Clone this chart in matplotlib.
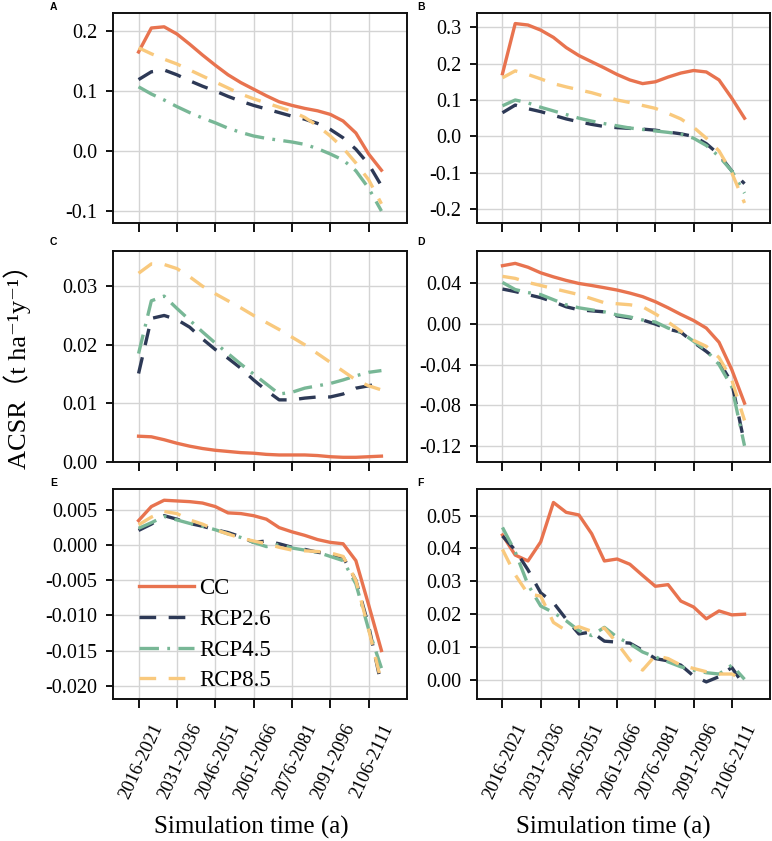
import numpy as np
import matplotlib
matplotlib.use("Agg")
import matplotlib.pyplot as plt
from matplotlib.ticker import FormatStrFormatter
from matplotlib.transforms import ScaledTranslation

plt.rcParams['font.family'] = ['Liberation Serif', 'DejaVu Serif', 'Noto Sans CJK SC']
plt.rcParams['axes.unicode_minus'] = False
plt.rcParams['lines.scale_dashes'] = False

# ---------------- data ----------------
periods = ["2016-2021", "2021-2026", "2026-2031", "2031-2036", "2036-2041", "2041-2046",
           "2046-2051", "2051-2056", "2056-2061", "2061-2066", "2066-2071", "2071-2076",
           "2076-2081", "2081-2086", "2086-2091", "2091-2096", "2096-2101", "2101-2106",
           "2106-2111", "2111-2116"]
tick_labels = ["2016-2021", "2031-2036", "2046-2051", "2061-2066", "2076-2081", "2091-2096", "2106-2111"]
series_names = ["CC", "RCP2.6", "RCP4.5", "RCP8.5"]

A_CC = [0.165, 0.205, 0.207, 0.195, 0.178, 0.160, 0.143, 0.127, 0.114, 0.103, 0.092, 0.082, 0.076, 0.071, 0.067, 0.061, 0.050, 0.030, -0.005, -0.032]
A_R26 = [0.119, 0.132, 0.135, 0.127, 0.117, 0.108, 0.100, 0.091, 0.083, 0.076, 0.070, 0.064, 0.058, 0.053, 0.046, 0.036, 0.022, 0.003, -0.022, -0.058]
A_R45 = [0.107, 0.095, 0.085, 0.074, 0.064, 0.055, 0.047, 0.038, 0.031, 0.025, 0.021, 0.018, 0.015, 0.011, 0.004, -0.005, -0.015, -0.033, -0.062, -0.100]
A_R85 = [0.172, 0.162, 0.153, 0.145, 0.135, 0.125, 0.115, 0.105, 0.095, 0.087, 0.080, 0.073, 0.066, 0.056, 0.042, 0.025, 0.005, -0.020, -0.048, -0.088]

B_CC = [0.172, 0.310, 0.306, 0.292, 0.272, 0.244, 0.222, 0.205, 0.188, 0.170, 0.155, 0.145, 0.150, 0.163, 0.174, 0.181, 0.177, 0.155, 0.105, 0.050]
B_R26 = [0.065, 0.086, 0.076, 0.068, 0.058, 0.048, 0.040, 0.033, 0.027, 0.024, 0.022, 0.020, 0.017, 0.012, 0.007, 0.000, -0.020, -0.050, -0.095, -0.130]
B_R45 = [0.084, 0.100, 0.092, 0.080, 0.070, 0.060, 0.050, 0.042, 0.035, 0.029, 0.023, 0.019, 0.015, 0.011, 0.006, -0.005, -0.025, -0.055, -0.095, -0.156]
B_R85 = [0.161, 0.180, 0.170, 0.158, 0.145, 0.136, 0.128, 0.120, 0.110, 0.100, 0.093, 0.085, 0.077, 0.063, 0.048, 0.025, -0.005, -0.040, -0.100, -0.183]

C_CC = [0.0044, 0.0043, 0.0038, 0.0032, 0.0027, 0.0023, 0.0020, 0.0018, 0.0016, 0.0015, 0.0013, 0.0012, 0.0012, 0.0012, 0.0011, 0.0009, 0.0008, 0.0008, 0.0009, 0.0010]
C_R26 = [0.0151, 0.0245, 0.0250, 0.0243, 0.0230, 0.0210, 0.0192, 0.0177, 0.0160, 0.0140, 0.0122, 0.0106, 0.0106, 0.0109, 0.0111, 0.0111, 0.0116, 0.0126, 0.0130, 0.0135]
C_R45 = [0.0185, 0.0275, 0.0283, 0.0262, 0.0242, 0.0222, 0.0203, 0.0185, 0.0167, 0.0150, 0.0133, 0.0116, 0.0119, 0.0126, 0.0130, 0.0134, 0.0140, 0.0147, 0.0153, 0.0156]
C_R85 = [0.0322, 0.0338, 0.0337, 0.0330, 0.0316, 0.0300, 0.0287, 0.0275, 0.0263, 0.0250, 0.0238, 0.0226, 0.0213, 0.0200, 0.0185, 0.0170, 0.0155, 0.0140, 0.0130, 0.0123]

D_CC = [0.0575, 0.0598, 0.0560, 0.0505, 0.0465, 0.0430, 0.0400, 0.0380, 0.0358, 0.0335, 0.0305, 0.0270, 0.0220, 0.0160, 0.0095, 0.0035, -0.0040, -0.0180, -0.0450, -0.0780]
D_R26 = [0.0345, 0.032, 0.029, 0.026, 0.022, 0.017, 0.014, 0.013, 0.012, 0.008, 0.006, 0.004, 0.000, -0.005, -0.008, -0.018, -0.027, -0.037, -0.058, -0.118]
D_R45 = [0.041, 0.034, 0.031, 0.029, 0.024, 0.019, 0.016, 0.014, 0.012, 0.009, 0.007, 0.004, 0.002, -0.004, -0.008, -0.017, -0.026, -0.040, -0.062, -0.120]
D_R85 = [0.047, 0.045, 0.041, 0.038, 0.035, 0.032, 0.029, 0.025, 0.021, 0.020, 0.019, 0.017, 0.010, 0.002, -0.007, -0.016, -0.022, -0.033, -0.055, -0.095]

E_CC = [0.0035, 0.0055, 0.0064, 0.0063, 0.0062, 0.0060, 0.0055, 0.0046, 0.0045, 0.0042, 0.0037, 0.0025, 0.0019, 0.0014, 0.0008, 0.0004, 0.0002, -0.0022, -0.0085, -0.0150]
E_R26 = [0.0021, 0.0030, 0.0042, 0.0037, 0.0031, 0.0027, 0.0022, 0.0018, 0.0012, 0.0004, 0.0006, 0.0002, -0.0003, -0.0006, -0.0010, -0.0013, -0.0017, -0.0050, -0.0115, -0.0200]
E_R45 = [0.0024, 0.0032, 0.0041, 0.0036, 0.0031, 0.0027, 0.0022, 0.0016, 0.0011, 0.0004, -0.0002, 0.0001, -0.0004, -0.0007, -0.0010, -0.0016, -0.0022, -0.0055, -0.0120, -0.0175]
E_R85 = [0.0029, 0.0040, 0.0048, 0.0045, 0.0036, 0.0030, 0.0022, 0.0016, 0.0010, 0.0006, 0.0002, -0.0003, -0.0007, -0.0008, -0.0009, -0.0011, -0.0016, -0.0050, -0.0120, -0.0195]

F_CC = [0.0441, 0.0380, 0.0362, 0.0420, 0.0540, 0.0510, 0.0502, 0.0445, 0.0362, 0.0368, 0.0352, 0.0318, 0.0285, 0.0290, 0.0240, 0.0222, 0.0186, 0.0210, 0.0198, 0.0200]
F_R26 = [0.0438, 0.0395, 0.0335, 0.0265, 0.0235, 0.0185, 0.0140, 0.0146, 0.0118, 0.0115, 0.0112, 0.0090, 0.0065, 0.0058, 0.0045, 0.0012, -0.0006, 0.0010, 0.0038, -0.0018]
F_R45 = [0.0464, 0.0390, 0.0290, 0.0225, 0.0205, 0.0180, 0.0150, 0.0135, 0.0160, 0.0130, 0.0110, 0.0085, 0.0070, 0.0055, 0.0040, 0.0030, 0.0022, 0.0018, 0.0045, 0.0002]
F_R85 = [0.0397, 0.0320, 0.0262, 0.0255, 0.0175, 0.0150, 0.0162, 0.0148, 0.0158, 0.0112, 0.0060, 0.0030, 0.0074, 0.0065, 0.0045, 0.0035, 0.0025, 0.0018, 0.0018, 0.0000]

panel_letters = ["A", "B", "C", "D", "E", "F"]
A_yticks = [-0.1, 0.0, 0.1, 0.2]
B_yticks = [-0.2, -0.1, 0.0, 0.1, 0.2, 0.3]
C_yticks = [0.00, 0.01, 0.02, 0.03]
D_yticks = [-0.12, -0.08, -0.04, 0.00, 0.04]
E_yticks = [-0.020, -0.015, -0.010, -0.005, 0.000, 0.005]
F_yticks = [0.00, 0.01, 0.02, 0.03, 0.04, 0.05]

# ---------------- style ----------------
colors = ["#E8734F", "#2D3956", "#78B796", "#F9C97D"]
lw = 2.4
styles = [dict(linestyle="-"),
          dict(dashes=(12, 9)),
          dict(dashes=(14, 6, 2, 6)),
          dict(dashes=(12, 9))]

W, H = 772, 841
fig = plt.figure(figsize=(W / 100, H / 100), dpi=100)

cols = [(113, 407), (477, 770)]
rows = [(13, 223), (251, 462), (489, 699)]

panels = [
    (A_CC, A_R26, A_R45, A_R85, A_yticks, (-0.12, 0.23), "%.1f"),
    (B_CC, B_R26, B_R45, B_R85, B_yticks, (-0.238, 0.339), "%.1f"),
    (C_CC, C_R26, C_R45, C_R85, C_yticks, (0.0, 0.036), "%.2f"),
    (D_CC, D_R26, D_R45, D_R85, D_yticks, (-0.136, 0.072), "%.2f"),
    (E_CC, E_R26, E_R45, E_R85, E_yticks, (-0.0219, 0.0080), "%.3f"),
    (F_CC, F_R26, F_R45, F_R85, F_yticks, (-0.0058, 0.0581), "%.2f"),
]

x = np.arange(len(periods))
tick_pos = [periods.index(t) for t in tick_labels]
shift = ScaledTranslation(20 / 100, 0, fig.dpi_scale_trans)

axes = []
for k, (cc, r26, r45, r85, yt, ylim, fmt) in enumerate(panels):
    r, c = divmod(k, 2)
    x0, x1 = cols[c]
    y0, y1 = rows[r]
    ax = fig.add_axes([x0 / W, 1 - y1 / H, (x1 - x0) / W, (y1 - y0) / H])
    axes.append(ax)
    for vals, col, st, name in zip([cc, r26, r45, r85], colors, styles, series_names):
        ax.plot(x, vals, color=col, lw=lw, label=name, **st)
    ax.set_xlim(-2, 21)
    ax.set_ylim(*ylim)
    ax.set_yticks(yt)
    ax.yaxis.set_major_formatter(FormatStrFormatter(fmt))
    ax.set_xticks(tick_pos)
    ax.grid(True, color="#d4d4d4", lw=1.0)
    ax.set_axisbelow(True)
    for s in ax.spines.values():
        s.set_linewidth(1.4)
        s.set_color("#111111")
    ax.tick_params(axis="y", length=5, width=1.3, labelsize=14.5, pad=6.5)
    ax.tick_params(axis="x", length=6.5, width=1.3, pad=12)
    if r == 2:
        labs = ax.set_xticklabels(tick_labels, rotation=65, ha="right", va="center",
                                  rotation_mode="anchor", fontsize=13.5)
        for lab in labs:
            lab.set_transform(lab.get_transform() + shift)
        xc = [251, 613][c]
        fig.text(xc / W, 1 - 827 / H, "Simulation time (a)", fontsize=18,
                 ha="center", va="center")
    else:
        ax.set_xticklabels([])
    lx = 50 if c == 0 else 417
    ly = [7, 242, 483][r]
    fig.text(lx / W, 1 - ly / H, panel_letters[k], fontsize=7.5, fontweight="bold",
             family="Liberation Sans", ha="left", va="center")

leg = axes[4].legend(loc="lower left", bbox_to_anchor=(0.035, -0.04), frameon=False,
                     fontsize=16.5, handlelength=2.4, handletextpad=0.2,
                     labelspacing=0.42, borderpad=0.2)

fig.text(17 / W, 1 - 360 / H, "ACSR（t ha⁻¹y⁻¹）", rotation=90, fontsize=19,
         ha="center", va="center")

fig.savefig("out.png", dpi=100)
